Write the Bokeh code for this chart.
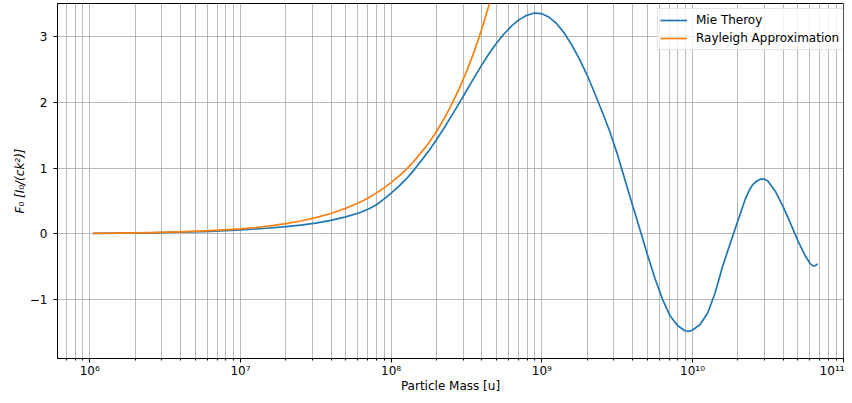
from bokeh.plotting import figure
from bokeh.models import FixedTicker, CustomJSTickFormatter, Range1d
from bokeh.embed import file_html
from bokeh.resources import INLINE

# ---------------- data ----------------
mass_mie = [1.05e6, 1.58e6, 2.51e6, 3.98e6, 6.31e6, 1.0e7, 1.26e7, 1.58e7, 2.0e7, 2.51e7,
            3.16e7, 3.98e7, 5.01e7, 6.31e7, 7.08e7, 7.94e7, 8.91e7,
            1.0e8, 1.12e8, 1.26e8, 1.41e8, 1.58e8, 1.78e8, 2.0e8, 2.24e8, 2.51e8, 2.82e8,
            3.16e8, 3.55e8, 3.98e8, 4.47e8, 5.01e8, 5.62e8, 6.31e8, 7.08e8, 7.94e8, 8.91e8,
            1.0e9, 1.12e9, 1.26e9, 1.41e9, 1.58e9, 1.78e9, 2.0e9, 2.24e9, 2.51e9, 2.82e9,
            3.16e9, 3.55e9, 3.98e9, 4.47e9, 5.01e9, 5.62e9, 6.31e9, 7.08e9, 7.94e9, 8.91e9, 9.44e9,
            1.0e10, 1.12e10, 1.26e10, 1.41e10, 1.58e10, 1.78e10, 2.0e10, 2.24e10, 2.37e10, 2.51e10,
            2.66e10, 2.82e10, 2.99e10, 3.16e10, 3.55e10, 3.98e10, 4.47e10, 5.01e10, 5.62e10,
            6.03e10, 6.31e10, 6.53e10, 6.76e10]
f_mie = [0.007, 0.011, 0.017, 0.026, 0.040, 0.062, 0.075, 0.090, 0.110, 0.135,
         0.165, 0.205, 0.26, 0.33, 0.38, 0.44, 0.525,
         0.62, 0.72, 0.835, 0.965, 1.11, 1.265, 1.43, 1.605, 1.79, 1.98,
         2.175, 2.37, 2.56, 2.74, 2.90, 3.04, 3.16, 3.255, 3.32, 3.355,
         3.345, 3.29, 3.19, 3.05, 2.87, 2.65, 2.41, 2.14, 1.86, 1.56,
         1.22, 0.83, 0.45, 0.07, -0.31, -0.67, -0.99, -1.24, -1.39, -1.47, -1.48,
         -1.46, -1.38, -1.20, -0.90, -0.50, -0.14, 0.20, 0.53, 0.655, 0.75,
         0.80, 0.832, 0.834, 0.805, 0.645, 0.42, 0.16, -0.11, -0.34,
         -0.45, -0.485, -0.48, -0.455]

mass_ray = [1.05e6, 1.58e6, 2.51e6, 3.98e6, 6.31e6, 1.0e7, 1.26e7, 1.58e7, 2.0e7, 2.51e7,
            3.16e7, 3.98e7, 5.01e7, 6.31e7, 7.08e7, 7.94e7, 8.91e7,
            1.0e8, 1.12e8, 1.26e8, 1.41e8, 1.58e8, 1.78e8, 2.0e8, 2.24e8, 2.51e8, 2.82e8,
            3.16e8, 3.55e8, 3.98e8, 4.47e8, 5.01e8]
f_ray = [0.008, 0.012, 0.020, 0.031, 0.049, 0.078, 0.098, 0.123, 0.156, 0.196,
         0.247, 0.31, 0.39, 0.49, 0.55, 0.62, 0.695,
         0.78, 0.875, 0.98, 1.10, 1.235, 1.385, 1.555, 1.745, 1.96, 2.20,
         2.465, 2.765, 3.10, 3.48, 3.90]

series_names = ["Mie Theroy", "Rayleigh Approximation"]

x_ticks = [1e5, 1e6, 1e7, 1e8, 1e9, 1e10, 1e11, 1e12]
x_tick_labels = ["10\u2075", "10\u2076", "10\u2077", "10\u2078", "10\u2079",
                 "10\u00b9\u2070", "10\u00b9\u00b9", "10\u00b9\u00b2"]
y_ticks = [-1, 0, 1, 2, 3]
y_tick_labels = ["\u22121", "0", "1", "2", "3"]

x_label = "Particle Mass [u]"
y_label = "F\u2080 [I\u2080/(ck\u00b2)]"

# ---------------- figure ----------------
FONT = "DejaVu Sans"
FS = "12px"
p = figure(width=844, height=395, x_axis_type="log",
           output_backend="svg", toolbar_location=None,
           x_range=Range1d(6.11e5, 1.004e11), y_range=Range1d(-1.892, 3.5),
           min_border_left=57, min_border_right=1, min_border_top=3, min_border_bottom=37)
p.background_fill_color = "white"
p.border_fill_color = "white"
p.outline_line_color = "black"
p.outline_line_width = 1

x_minor = [k * 10.0 ** e for e in range(5, 12) for k in range(2, 10)]
p.xaxis.ticker = FixedTicker(ticks=x_ticks, minor_ticks=x_minor)
p.yaxis.ticker = FixedTicker(ticks=y_ticks, minor_ticks=[])

fmt_code = """
for (let i = 0; i < vals.length; i++) {
  if (Math.abs(tick - vals[i]) <= 1e-6 * Math.max(1, Math.abs(vals[i]))) { return labels[i]; }
}
return '';
"""
p.xaxis.formatter = CustomJSTickFormatter(args=dict(vals=x_ticks, labels=x_tick_labels), code=fmt_code)
p.yaxis.formatter = CustomJSTickFormatter(args=dict(vals=y_ticks, labels=y_tick_labels), code=fmt_code)

for ax in (p.xaxis, p.yaxis):
    ax.axis_line_color = "black"
    ax.major_tick_line_color = "black"
    ax.minor_tick_line_color = "black"
    ax.major_tick_out = 4
    ax.major_tick_in = 0
    ax.minor_tick_out = 2
    ax.minor_tick_in = 0
    ax.major_label_text_font = FONT
    ax.major_label_text_font_size = FS
    ax.major_label_text_color = "black"
    ax.axis_label_text_font = FONT
    ax.axis_label_text_font_size = FS
    ax.axis_label_text_font_style = "normal"
    ax.axis_label_text_color = "black"

p.xaxis.axis_label = x_label
p.yaxis.axis_label = y_label
p.yaxis.axis_label_text_font_style = "italic"
p.xaxis.major_label_standoff = 1
p.xaxis.axis_label_standoff = -2
p.yaxis.major_label_standoff = 6
p.yaxis.axis_label_standoff = 0
p.yaxis.minor_tick_line_color = None

p.xgrid.grid_line_color = "#b0b0b0"
p.xgrid.grid_line_width = 0.9
p.xgrid.minor_grid_line_color = "#b0b0b0"
p.xgrid.minor_grid_line_width = 0.9
p.ygrid.grid_line_color = "#b0b0b0"
p.ygrid.grid_line_width = 0.9

p.line(mass_mie, f_mie, line_color="#1f77b4", line_width=1.7, line_join="round",
       legend_label=series_names[0])
p.line(mass_ray, f_ray, line_color="#ff7f0e", line_width=1.7, line_join="round",
       legend_label=series_names[1])

lg = p.legend[0]
lg.location = (600, 308)
lg.margin = 0
lg.padding = 2
lg.spacing = 0
lg.glyph_width = 27
lg.glyph_height = 18
lg.label_height = 18
lg.label_width = 146
lg.label_standoff = 9
lg.label_text_font = FONT
lg.label_text_font_size = FS
lg.label_text_color = "black"
lg.border_line_color = "#cccccc"
lg.border_line_width = 1
lg.background_fill_color = "white"
lg.background_fill_alpha = 0.8

open("out.html", "w").write(file_html(p, INLINE))
